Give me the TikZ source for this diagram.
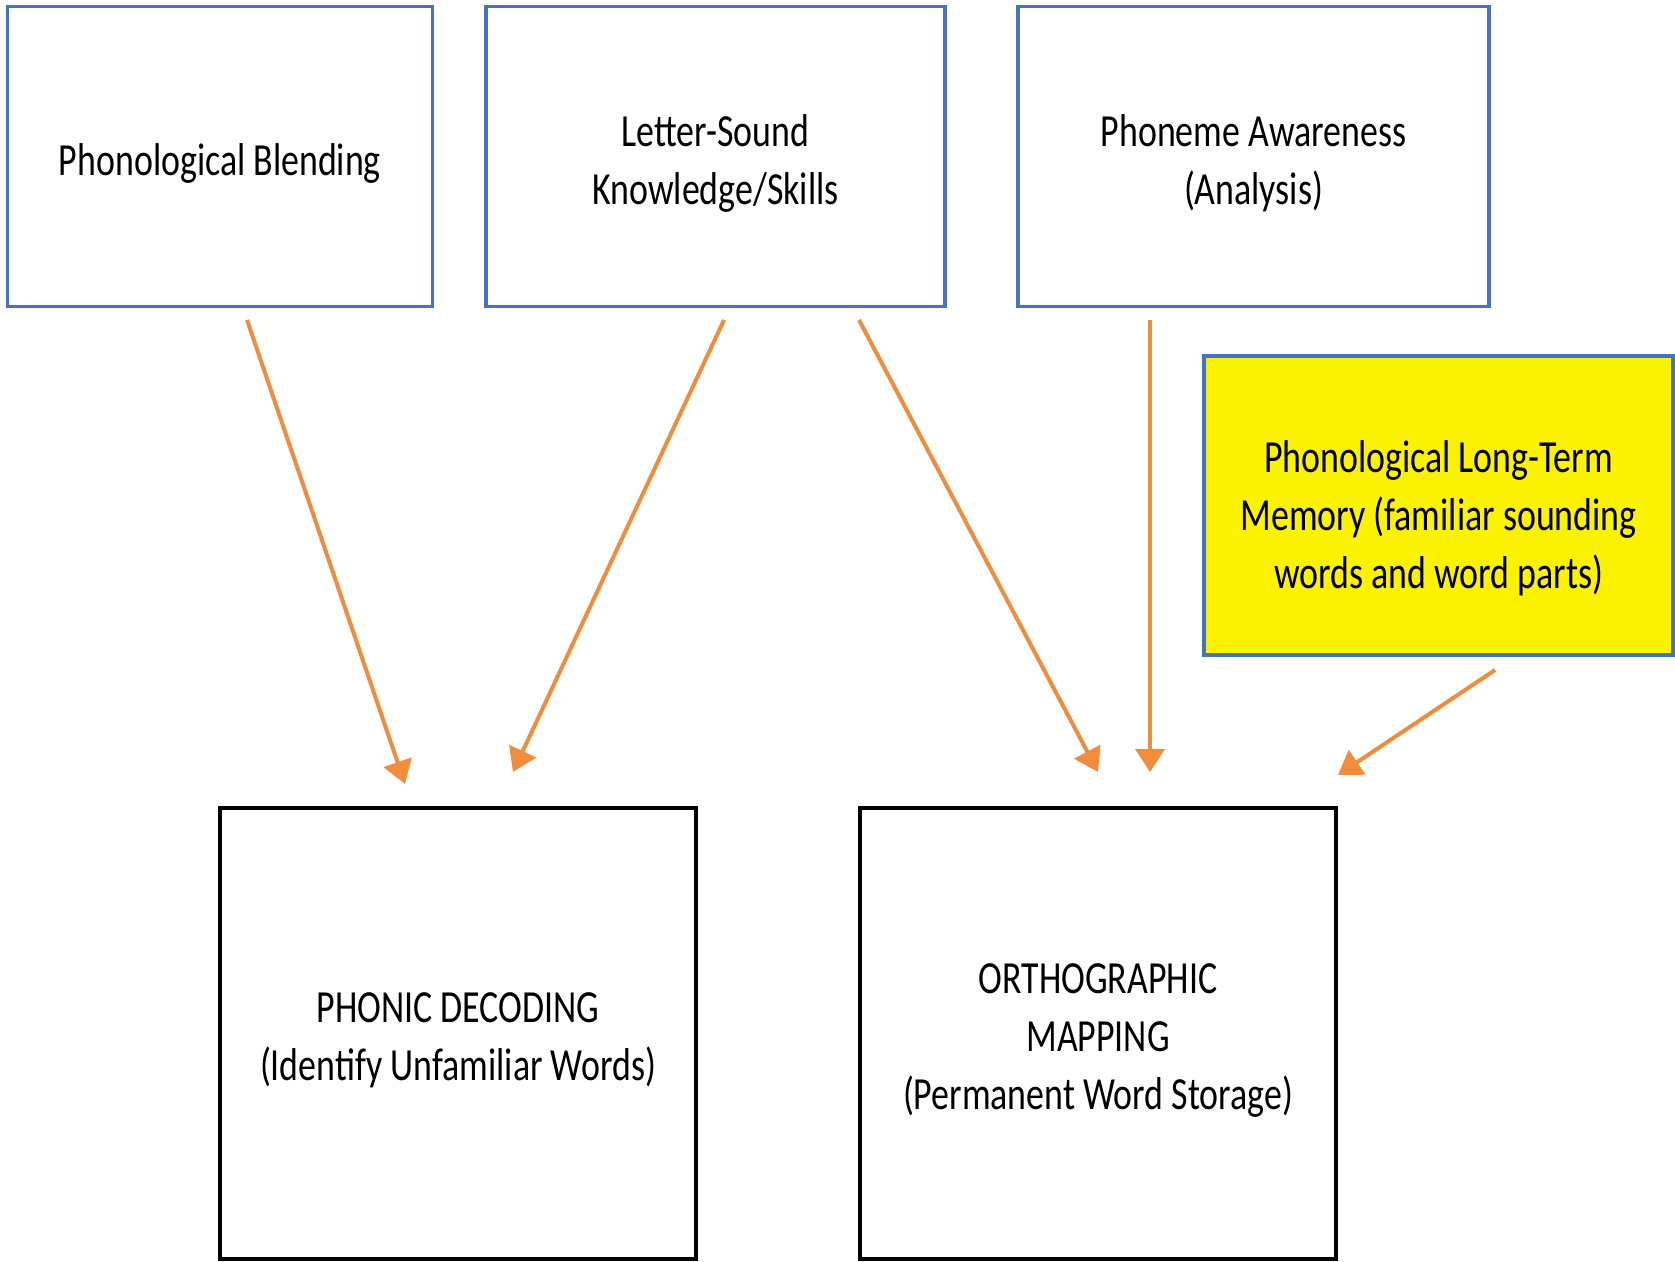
\documentclass[tikz,border=0pt]{standalone}
\usepackage{fontspec}
\setmainfont[FakeStretch=0.78]{Carlito}
\usetikzlibrary{arrows.meta}
\definecolor{boxblue}{RGB}{68,114,196}
\definecolor{arrorange}{RGB}{240,140,60}
\definecolor{memyellow}{RGB}{250,242,0}
\begin{document}
\begin{tikzpicture}[x=0.5pt,y=-0.5pt,
  topbox/.style={draw=boxblue,line width=1.6pt,inner sep=0pt},
  botbox/.style={draw=black,line width=1.8pt,inner sep=0pt},
  txt/.style={align=center,inner sep=0pt,font=\fontsize{23}{29}\selectfont},
  conn/.style={draw=arrorange,line width=2pt,-{Triangle[length=11.5pt,width=14.5pt]}}]
\useasboundingbox (0,0) rectangle (1675,1262);
\node[topbox,minimum width=212.5pt,minimum height=150pt] (blend) at (220,156.5) {};
\node[txt] (blendtext) at (220,163) {Phonological Blending};
\node[topbox,minimum width=229.5pt,minimum height=150pt] (letter) at (715.5,156.5) {};
\node[txt] (lettertext) at (715.5,163) {Letter-Sound\\Knowledge/Skills};
\node[topbox,minimum width=235.5pt,minimum height=150pt] (phon) at (1253.5,156.5) {};
\node[txt] (phontext) at (1253.5,163) {Phoneme Awareness\\(Analysis)};
\node[topbox,fill=memyellow,minimum width=234.5pt,minimum height=149.5pt] (mem) at (1438.5,505.5) {};
\node[txt] (memtext) at (1438.5,518) {Phonological Long-Term\\Memory (familiar sounding\\words and word parts)};
\node[botbox,minimum width=238pt,minimum height=225.5pt] (dec) at (458,1033.5) {};
\node[txt] (dectext) at (458,1040) {PHONIC DECODING\\(Identify Unfamiliar Words)};
\node[botbox,minimum width=238pt,minimum height=225.5pt] (orth) at (1098,1033.5) {};
\node[txt] (orthtext) at (1098,1041) {ORTHOGRAPHIC\\MAPPING\\(Permanent Word Storage)};
\coordinate (s1) at (247,320);
\coordinate (e1) at (405,784);
\coordinate (s2) at (724,320);
\coordinate (e2) at (513,772);
\coordinate (s3) at (859,320);
\coordinate (e3) at (1098,772);
\coordinate (s4) at (1150,320);
\coordinate (e4) at (1150,772);
\coordinate (s5) at (1495,670);
\coordinate (e5) at (1338,775);
\draw[conn] (s1) -- (e1);
\draw[conn] (s2) -- (e2);
\draw[conn] (s3) -- (e3);
\draw[conn] (s4) -- (e4);
\draw[conn] (s5) -- (e5);
\end{tikzpicture}
\end{document}
